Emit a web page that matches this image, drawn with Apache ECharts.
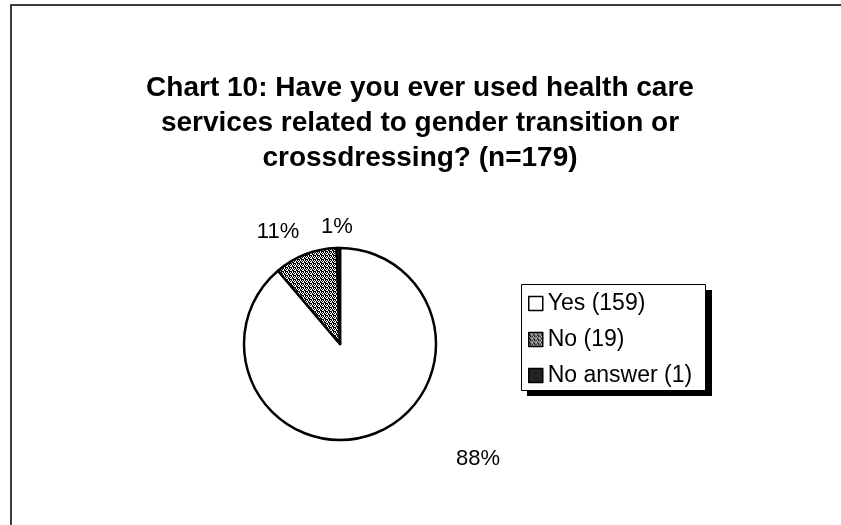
<!DOCTYPE html>
<html>
<head>
<meta charset="utf-8">
<script src="https://cdn.jsdelivr.net/npm/echarts@6/dist/echarts.min.js"></script>
<style>
html,body{margin:0;padding:0;background:#fff;}
#chart{width:841px;height:525px;}
</style>
</head>
<body>
<div id="chart"></div>
<script>
const titleLines = ["Chart 10: Have you ever used health care", "services related to gender transition or", "crossdressing? (n=179)"];
const categories = ["Yes (159)", "No (19)", "No answer (1)"];
const counts = [159, 19, 1];
const percentLabels = ["88%", "11%", "1%"];

// dotted pattern for "No"
const pat = document.createElement('canvas');
pat.width = 4; pat.height = 4;
const pctx = pat.getContext('2d');
pctx.fillStyle = '#000';
pctx.fillRect(0, 0, 4, 4);
pctx.fillStyle = '#fff';
[[0,0],[2,0],[1,1],[3,2],[0,3],[2,2],[3,1]].forEach(p => pctx.fillRect(p[0], p[1], 1, 1));

const sliceColors = ['#ffffff', {image: pat, repeat: 'repeat'}, '#222222'];
const labelPos = [[478, 459], [278, 232], [337, 227]];
const FONT = 'Arial, "Liberation Sans"';

const chart = echarts.init(document.getElementById('chart'), null, {renderer: 'canvas'});
chart.setOption({
  animation: false,
  backgroundColor: '#ffffff',
  title: {
    text: titleLines.join('\n'),
    left: 420,
    textAlign: 'center',
    top: 71,
    padding: 0,
    textStyle: {fontFamily: FONT, fontSize: 28, fontWeight: 'bold', color: '#000', lineHeight: 35, align: 'center'}
  },
  graphic: [
    {type: 'rect', z: 0, shape: {x: 11, y: 5, width: 900, height: 600},
     style: {fill: 'none', stroke: '#000', lineWidth: 1.5}, silent: true},
    {type: 'rect', z: 1, shape: {x: 527, y: 290, width: 185, height: 106},
     style: {fill: '#000'}, silent: true},
    {type: 'rect', z: 2, shape: {x: 521.5, y: 284.5, width: 184, height: 106},
     style: {fill: '#fff', stroke: '#000', lineWidth: 1}, silent: true}
  ],
  legend: {
    orient: 'vertical',
    left: 528,
    top: 292,
    z: 10,
    data: categories,
    icon: 'rect',
    itemWidth: 14,
    itemHeight: 14,
    itemGap: 13,
    padding: 0,
    itemStyle: {borderColor: '#000', borderWidth: 1.5},
    textStyle: {fontFamily: FONT, fontSize: 23, color: '#000', lineHeight: 22}
  },
  series: [{
    type: 'pie',
    center: [340, 344],
    radius: 96,
    startAngle: 90,
    clockwise: true,
    avoidLabelOverlap: false,
    itemStyle: {borderColor: '#000', borderWidth: 2.5},
    emphasis: {disabled: true},
    label: {
      show: true,
      position: 'outside',
      fontFamily: FONT,
      fontSize: 22,
      color: '#000',
      formatter: p => percentLabels[p.dataIndex]
    },
    labelLine: {show: false},
    labelLayout: p => ({x: labelPos[p.dataIndex][0], y: labelPos[p.dataIndex][1], align: 'center', verticalAlign: 'middle'}),
    data: categories.map((c, i) => ({name: c, value: counts[i], itemStyle: {color: sliceColors[i]}}))
  }]
});
</script>
</body>
</html>
